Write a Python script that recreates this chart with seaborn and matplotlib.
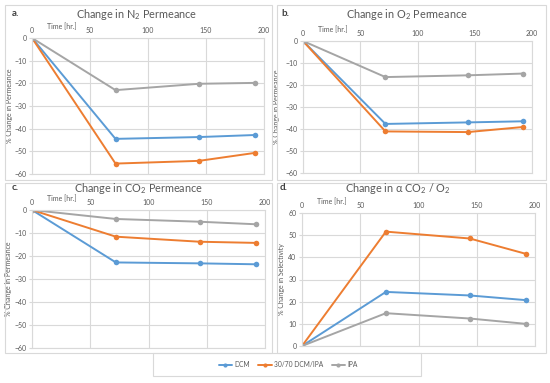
import matplotlib.pyplot as plt
from matplotlib.patches import Rectangle
import pandas as pd
import seaborn as sns

# data
time_hr = [0, 72, 144, 192]
solvents = ["DCM", "30/70 DCM/IPA", "IPA"]
colors = ["#5B9BD5", "#ED7D31", "#A5A5A5"]

n2_dcm = [0, -44.5, -43.7, -42.8]
n2_mix = [0, -55.4, -54.2, -50.7]
n2_ipa = [0, -23.0, -20.2, -19.8]

o2_dcm = [0, -37.7, -37.0, -36.5]
o2_mix = [0, -41.1, -41.4, -39.1]
o2_ipa = [0, -16.4, -15.6, -14.8]

co2_dcm = [0, -22.8, -23.2, -23.6]
co2_mix = [0, -11.6, -13.8, -14.3]
co2_ipa = [0, -3.9, -5.1, -6.2]

sel_dcm = [0, 24.4, 22.8, 20.7]
sel_mix = [0, 51.6, 48.5, 41.6]
sel_ipa = [0, 14.8, 12.4, 10.0]

sns.set_style("white")
plt.rcParams["font.family"] = ["Lato", "DejaVu Sans"]
plt.rcParams["mathtext.default"] = "regular"

W, H = 550, 383
fig = plt.figure(figsize=(5.5, 3.83), dpi=100)
txt = "#595959"
grid = "#D9D9D9"


def frac(x0, y0, x1, y1):
    # pixel box -> figure fraction rect
    return [x0 / W, 1 - y1 / H, (x1 - x0) / W, (y1 - y0) / H]


panels = [
    ("a.", "Change in N$_2$ Permeance", "% Change in Permeance",
     [n2_dcm, n2_mix, n2_ipa], (-60, 0), (32, 38, 264, 174), (5, 5, 272, 180), (12, 14), -0.082, 137),
    ("b.", "Change in O$_2$ Permeance", "% Change in Permeance",
     [o2_dcm, o2_mix, o2_ipa], (-60, 0), (303, 41, 532, 173), (277, 5, 546, 180), (281, 14), -0.10, 407),
    ("c.", "Change in CO$_2$ Permeance", "% Change in Permeance",
     [co2_dcm, co2_mix, co2_ipa], (-60, 0), (32, 210, 265, 348), (5, 183, 272, 353), (12, 188), -0.086, 138),
    ("d.", "Change in α CO$_2$ / O$_2$", "% Change in Selectivity",
     [sel_dcm, sel_mix, sel_ipa], (0, 60), (302, 213, 535, 346), (277, 183, 546, 353), (280, 188), -0.073, 398),
]

for letter, title, ylab, series, ylim, box, frame, lpos, ylx, tx in panels:
    fig.patches.append(Rectangle((frame[0] / W, 1 - frame[3] / H), (frame[2] - frame[0]) / W,
                                 (frame[3] - frame[1]) / H, transform=fig.transFigure,
                                 fill=False, edgecolor=grid, lw=0.8))
    ax = fig.add_axes(frac(*box))
    rows = []
    for name, vals in zip(solvents, series):
        for t, v in zip(time_hr, vals):
            rows.append({"time": t, "value": v, "solvent": name})
    df = pd.DataFrame(rows)
    sns.lineplot(data=df, x="time", y="value", hue="solvent", hue_order=solvents,
                 palette=colors, marker="o", markersize=4, markeredgewidth=0,
                 linewidth=1.4, ax=ax, legend=False)
    ax.set_xlim(0, 200)
    ax.set_ylim(*ylim)
    ax.set_xticks(range(0, 201, 50))
    ax.set_yticks(range(ylim[0], ylim[1] + 1, 10))
    ax.xaxis.tick_top()
    ax.grid(True, color=grid, lw=0.8)
    for s in ax.spines.values():
        s.set_color(grid)
        s.set_linewidth(0.8)
    ax.tick_params(axis="x", length=0, pad=3, labelsize=5, colors=txt)
    ax.tick_params(axis="y", length=2, pad=2, labelsize=5, colors=txt, color=grid, left=True)
    ax.set_xlabel("")
    ax.set_ylabel(ylab, fontsize=5, color=txt)
    ax.yaxis.set_label_coords(ylx, 0.5)
    ax.text(0.13, 1.085, "Time [hr.]", transform=ax.transAxes, fontsize=5, color=txt,
            ha="center", va="center")
    fig.text(tx / W, 1 - lpos[1] / H, title, fontsize=7.8,
             color=txt, ha="center", va="center")
    fig.text(lpos[0] / W, 1 - lpos[1] / H, letter, fontsize=7, fontweight="bold",
             color="#404040", ha="left", va="center")

# legend box
fig.patches.append(Rectangle((153 / W, 1 - 376 / H), 268 / W, 23 / H, transform=fig.transFigure,
                             fill=False, edgecolor=grid, lw=0.8))
handles = [plt.Line2D([], [], color=c, marker="o", markersize=3, markeredgewidth=0, lw=1.4)
           for c in colors]
fig.legend(handles, solvents, loc="center", bbox_to_anchor=(288 / W, 1 - 364.5 / H),
           ncol=3, frameon=False, fontsize=4.8, handlelength=2.0, columnspacing=1.3,
           handletextpad=0.3, labelcolor=txt)

fig.savefig("out.png", dpi=100, facecolor="white")
